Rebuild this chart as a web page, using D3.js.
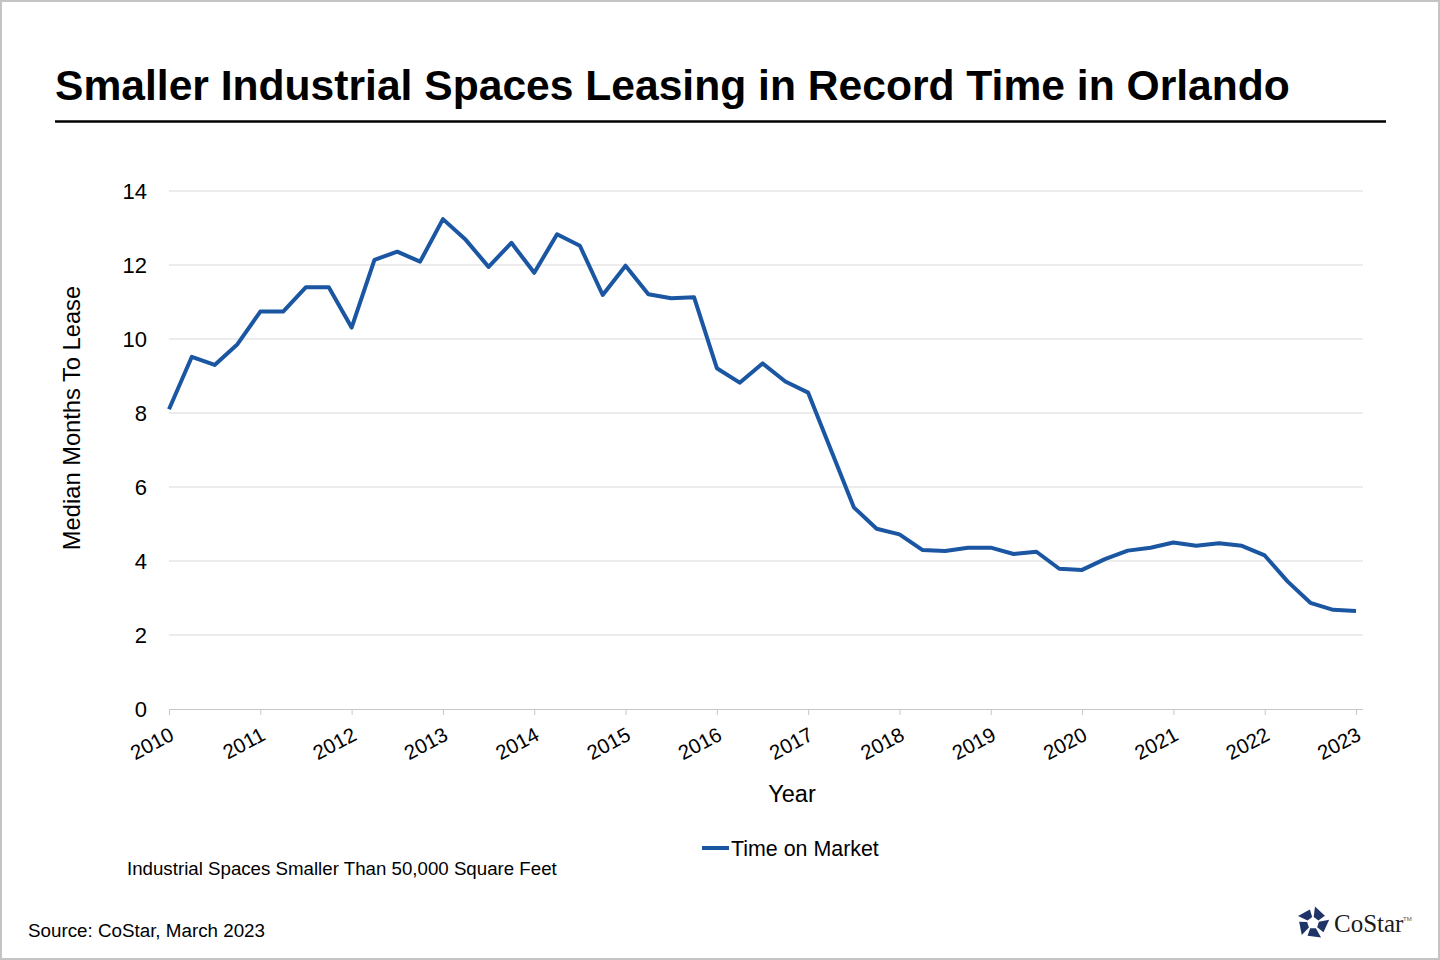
<!DOCTYPE html>
<html>
<head>
<meta charset="utf-8">
<script src="https://cdn.jsdelivr.net/npm/d3@7"></script>
<style>
    body { margin: 0; background: #fff; }
    svg { display: block; font-family: "Liberation Sans", Arial, sans-serif; }
</style>
</head>
<body>
<svg id="chart" width="1440" height="960"></svg>
<script>
// quarterly values, 2010 Q1 .. 2023 Q1
var quarters = d3.range(53).map(function(i){ return 2010 + i / 4; });
var monthsToLease = [
    8.10, 9.52, 9.30, 9.86,      // 2010
    10.74, 10.74, 11.40, 11.40,  // 2011
    10.31, 12.14, 12.36, 12.09,  // 2012
    13.24, 12.68, 11.95, 12.60,  // 2013
    11.79, 12.83, 12.52, 11.19,  // 2014
    11.98, 11.21, 11.10, 11.13,  // 2015
    9.21, 8.82, 9.34, 8.85,      // 2016
    8.55, 7.00, 5.45, 4.87,      // 2017
    4.72, 4.30, 4.27, 4.36,      // 2018
    4.36, 4.19, 4.25, 3.79,      // 2019
    3.76, 4.05, 4.28, 4.36,      // 2020
    4.50, 4.41, 4.48, 4.41,      // 2021
    4.15, 3.45, 2.87, 2.68,      // 2022
    2.65                         // 2023
];
var yearTicks = d3.range(2010, 2024);
var yTicks = [0, 2, 4, 6, 8, 10, 12, 14];

var titleText = "Smaller Industrial Spaces Leasing in Record Time in Orlando";
var seriesName = "Time on Market";
var noteText = "Industrial Spaces Smaller Than 50,000 Square Feet";
var sourceText = "Source: CoStar, March 2023";

var lineColor = "#1a56a2";

d3.select(window).on('load', init);

function init() {
    var svg = d3.select("#chart");

    // frame
    svg.append("rect")
        .attr("x", 1).attr("y", 1)
        .attr("width", 1438).attr("height", 958)
        .attr("fill", "#fff")
        .attr("stroke", "#c4c4c4")
        .attr("stroke-width", 2);

    // title + rule
    svg.append("text")
        .attr("x", 55).attr("y", 100)
        .attr("font-size", 42.6)
        .attr("font-weight", "bold")
        .attr("fill", "#000")
        .text(titleText);

    svg.append("line")
        .attr("x1", 55).attr("x2", 1386)
        .attr("y1", 121.5).attr("y2", 121.5)
        .attr("stroke", "#000")
        .attr("stroke-width", 2.5);

    var x = d3.scaleLinear()
        .domain([2010, 2023])
        .range([169, 1356]);

    var y = d3.scaleLinear()
        .domain([0, 14])
        .range([709, 191]);

    // gridlines
    svg.append("g")
        .selectAll("line")
        .data(yTicks.filter(function(d){ return d > 0; }))
        .enter()
        .append("line")
        .attr("x1", 169).attr("x2", 1363)
        .attr("y1", function(d){ return y(d); })
        .attr("y2", function(d){ return y(d); })
        .attr("stroke", "#d9d9d9")
        .attr("stroke-width", 1);

    // y axis labels
    var yAxis = d3.axisLeft(y)
        .tickValues(yTicks)
        .tickSize(0)
        .tickPadding(22);
    var gy = svg.append("g")
        .attr("transform", "translate(169,0)")
        .call(yAxis);
    gy.select(".domain").remove();
    gy.selectAll("text")
        .attr("font-size", 22)
        .attr("font-family", "Liberation Sans, Arial, sans-serif")
        .attr("fill", "#000");

    // x axis
    var xAxis = d3.axisBottom(x)
        .tickValues(yearTicks)
        .tickFormat(d3.format("d"))
        .tickSizeInner(6)
        .tickSizeOuter(0);
    var gx = svg.append("g")
        .attr("transform", "translate(0,709)")
        .call(xAxis);
    gx.select(".domain")
        .attr("stroke", "#c8c8c8")
        .attr("d", "M169,0.5H1363");
    gx.selectAll(".tick line").attr("stroke", "#c8c8c8");
    gx.selectAll("text")
        .attr("font-size", 20.5)
        .attr("font-family", "Liberation Sans, Arial, sans-serif")
        .attr("fill", "#000")
        .attr("text-anchor", "end")
        .attr("y", 0)
        .attr("dy", "0.72em")
        .attr("transform", "translate(-1,17) rotate(-28)");

    // axis titles
    svg.append("text")
        .attr("transform", "translate(80,418) rotate(-90)")
        .attr("text-anchor", "middle")
        .attr("font-size", 23.7)
        .text("Median Months To Lease");

    svg.append("text")
        .attr("x", 792).attr("y", 802)
        .attr("text-anchor", "middle")
        .attr("font-size", 23.5)
        .text("Year");

    // the series
    var line = d3.line()
        .x(function(d, i){ return x(quarters[i]); })
        .y(function(d){ return y(d); });

    svg.append("path")
        .datum(monthsToLease)
        .attr("d", line)
        .attr("fill", "none")
        .attr("stroke", lineColor)
        .attr("stroke-width", 4)
        .attr("stroke-linejoin", "round");

    // legend
    svg.append("line")
        .attr("x1", 702).attr("x2", 729)
        .attr("y1", 848).attr("y2", 848)
        .attr("stroke", lineColor)
        .attr("stroke-width", 4);
    svg.append("text")
        .attr("x", 731).attr("y", 856)
        .attr("font-size", 21.4)
        .text(seriesName);

    // notes
    svg.append("text")
        .attr("x", 127).attr("y", 875)
        .attr("font-size", 18.7)
        .text(noteText);

    svg.append("text")
        .attr("x", 28).attr("y", 937)
        .attr("font-size", 18.8)
        .text(sourceText);

    drawLogo(svg);
}

// ---------------------------------------
function drawLogo(svg) {
    var cx = 1313, cy = 923, R = 16.5, r = 6;
    var g = svg.append("g").attr("fill", "#1f3568");
    var toPt = function(rad, a){ return [cx + rad * Math.cos(a), cy + rad * Math.sin(a)]; };

    d3.range(5).forEach(function(i){
        var a0 = -Math.PI / 2 + i * 2 * Math.PI / 5 + 0.12;
        var a1 = a0 + 2 * Math.PI / 5;
        var p0 = toPt(R, a0);
        var p1 = toPt(R, a1);
        var pe = [p0[0] + (p1[0] - p0[0]) * 0.7, p0[1] + (p1[1] - p0[1]) * 0.7];
        var pts = [p0, pe, toPt(r, a0 + 1.0), toPt(r, a0)];
        g.append("polygon").attr("points", pts.map(function(p){ return p.join(","); }).join(" "));
    });

    svg.append("text")
        .attr("x", 1334).attr("y", 932)
        .attr("font-family", "Liberation Serif, Times New Roman, serif")
        .attr("font-size", 25)
        .attr("fill", "#1a1a1a")
        .text("CoStar");
    svg.append("text")
        .attr("x", 1403).attr("y", 921)
        .attr("font-size", 6)
        .attr("fill", "#555")
        .text("TM");
}
</script>
</body>
</html>
